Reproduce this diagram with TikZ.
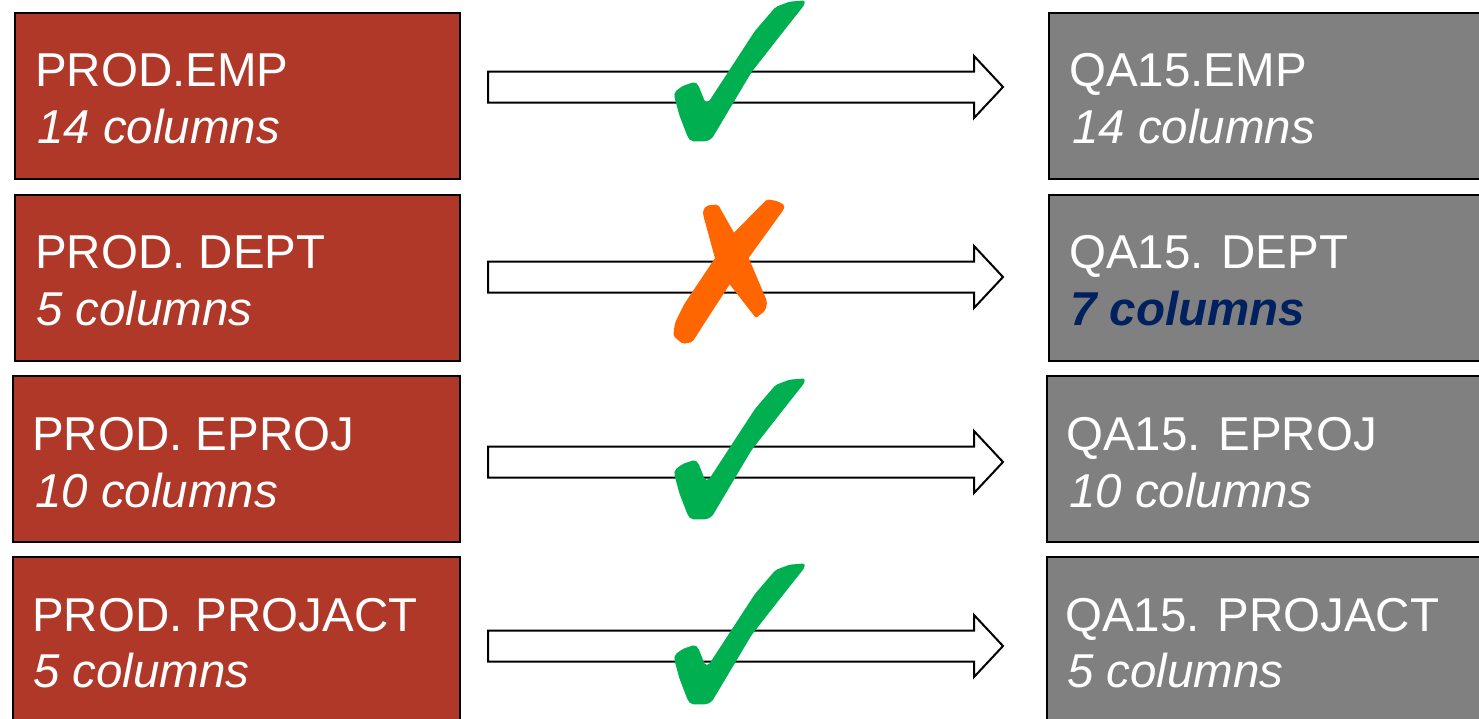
\documentclass[tikz,border=0pt]{standalone}
\usepackage{fontspec}
\setmainfont{Liberation Sans}
\definecolor{boxred}{RGB}{176,56,41}
\definecolor{boxgray}{RGB}{128,128,128}
\definecolor{okgreen}{RGB}{0,176,80}
\definecolor{xorange}{RGB}{255,102,0}
\definecolor{navyblue}{RGB}{0,32,96}
\tikzset{
  srcbox/.style={draw=black, line width=2pt, fill=boxred, anchor=north west, inner sep=0pt, minimum width=445pt, minimum height=166pt},
  dstbox/.style={draw=black, line width=2pt, fill=boxgray, anchor=north west, inner sep=0pt, minimum width=460pt, minimum height=166pt},
  title/.style={anchor=base west, inner sep=0pt, text=white, font=\fontsize{47.5}{56}\selectfont},
  count/.style={anchor=base west, inner sep=0pt, text=white, font=\fontsize{47.5}{56}\selectfont\itshape},
  countbad/.style={anchor=base west, inner sep=0pt, text=navyblue, font=\fontsize{47.5}{56}\selectfont\bfseries\itshape},
  blockarrow/.style={draw=black, line width=2pt, fill=white, line join=miter},
  blockarr/.pic={\draw[blockarrow] (0,-15.5) -- (486,-15.5) -- (486,-31) -- (515,0) -- (486,31) -- (486,15.5) -- (0,15.5) -- cycle;},
  okmark/.pic={\fill[okgreen, rounded corners=2pt]
    (674.2,8.2) -- (674.8,3.8) -- (682.7,-2.1) -- (694.8,-6.2) -- (698.2,-3.1) -- (705.1,14.1) -- (708.5,14.1)
    -- (754.9,-57) -- (775.5,-81) -- (789.3,-86.3) -- (804.7,-87.6) -- (804.7,-83.5) -- (782.4,-55.3)
    -- (751.5,-15.8) -- (712,50.5) -- (706.8,53.3) -- (691.3,53.3) -- (687.9,49.5) -- (679.3,27.1) -- cycle;}
}
\begin{document}
\begin{tikzpicture}[x=1pt,y=-1pt]
\useasboundingbox (0,0) rectangle (1479,718);
\clip (0,0) rectangle (1479,718);
% source boxes
\node[srcbox] (s1) at (14,12) {};
\node[srcbox] (s2) at (14,194) {};
\node[srcbox, minimum width=447pt] (s3) at (12,375) {};
\node[srcbox, minimum width=447pt, minimum height=180pt] (s4) at (12,556) {};
% target boxes
\node[dstbox] (d1) at (1048,12) {};
\node[dstbox] (d2) at (1048,194) {};
\node[dstbox] (d3) at (1046,375) {};
\node[dstbox, minimum height=180pt] (d4) at (1046,556) {};
% texts
\node[title] (s1t) at (35,86) {PROD.EMP};
\node[count] (s1c) at (37,143) {14 columns};
\node[title] (s2t) at (35,268) {PROD. DEPT};
\node[count] (s2c) at (36,325) {5 columns};
\node[title] (s3t) at (32,450) {PROD. EPROJ};
\node[count] (s3c) at (35,507) {10 columns};
\node[title] (s4t) at (32,631) {PROD. PROJACT};
\node[count] (s4c) at (33,687) {5 columns};
\node[title] (d1t) at (1069,86) {QA15.EMP};
\node[count] (d1c) at (1072,143) {14 columns};
\node[title] (d2t) at (1069,268) {QA15. DEPT};
\node[countbad] (d2c) at (1070,325) {7 columns};
\node[title] (d3t) at (1066,450) {QA15. EPROJ};
\node[count] (d3c) at (1069,507) {10 columns};
\node[title] (d4t) at (1065,631) {QA15. PROJACT};
\node[count] (d4c) at (1067,687) {5 columns};
% arrows
\pic at (488,87) {blockarr};
\pic at (488,277) {blockarr};
\pic at (488,462) {blockarr};
\pic at (488,646) {blockarr};
% marks
\pic at (0,88) {okmark};
\pic at (0,466) {okmark};
\pic at (0,651) {okmark};
\fill[xorange, rounded corners=2pt]
  (703.4,215.8) -- (702.7,210.6) -- (706.8,205.5) -- (718,204.4) -- (736,236.4) -- (748.3,257)
  -- (767.2,301.7) -- (765.5,310.3) -- (755.9,318.1) -- (727.1,281) -- (715.1,258.7) -- cycle;
\fill[xorange, rounded corners=2pt]
  (766.9,199.3) -- (777.3,201) -- (785.1,205.5) -- (783.4,209.9) -- (749.3,257) -- (729.4,284.8)
  -- (707.1,319.1) -- (692.3,342.2) -- (682.7,343.9) -- (673.2,336) -- (674.9,323) -- (684.2,304.1)
  -- (714.1,259.4) -- (732.3,234.4) -- cycle;
\end{tikzpicture}
\end{document}
